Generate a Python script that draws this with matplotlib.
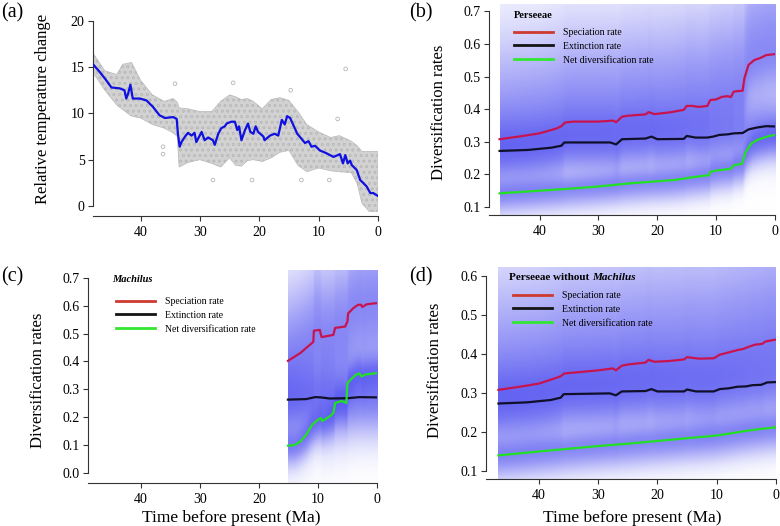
import numpy as np
import matplotlib
matplotlib.use("Agg")
import matplotlib.pyplot as plt
from matplotlib.lines import Line2D

plt.rcParams['font.family'] = ['Liberation Serif', 'DejaVu Serif']
plt.rcParams['hatch.linewidth'] = 0.4

# ---- (a) temperature ----
temp_age = [48.0, 46.9, 45.8, 44.9, 43.5, 42.7, 42.4, 42.1, 41.7, 41.3, 40.1, 39.0, 37.9, 36.8, 35.9,
            34.5, 33.9, 33.7, 33.4, 33.1, 32.5, 32.0, 31.4, 30.9, 30.6, 29.7, 29.2, 28.6, 27.8, 27.5,
            26.9, 26.4, 25.8, 25.5, 24.7, 24.1, 23.7, 23.4, 23.0, 22.4, 21.9, 21.5, 21.0, 20.6, 20.2,
            19.3, 19.1, 18.2, 17.4, 16.8, 16.2, 15.7, 15.3, 14.8, 14.3, 13.6, 13.2, 12.3, 11.7, 11.2,
            10.6, 9.8, 8.7, 7.5, 6.4, 5.9, 5.5, 5.1, 4.7, 4.4, 3.6, 3.0, 2.5, 1.9, 1.3, 0.8, 0.05]
temp_val = [15.3, 14.5, 13.6, 12.8, 12.7, 12.5, 11.6, 12.1, 13.1, 11.6, 11.6, 11.4, 10.7, 9.8, 9.5,
            9.6, 9.4, 7.8, 6.4, 6.9, 7.5, 7.9, 7.6, 7.9, 6.9, 8.0, 7.1, 7.4, 7.1, 6.6,
            7.8, 8.4, 8.6, 8.9, 9.1, 9.1, 8.2, 8.6, 7.1, 8.2, 8.9, 8.0, 7.8, 8.6, 8.0,
            7.5, 7.1, 7.6, 7.8, 7.6, 9.3, 8.8, 9.7, 9.5, 8.8, 7.8, 7.5, 6.8, 7.0, 6.4,
            6.5, 6.0, 5.7, 5.3, 5.6, 4.6, 5.5, 4.6, 4.9, 4.4, 3.9, 2.8, 2.5, 2.1, 1.4, 1.4, 1.1]

# envelope of the raw record cloud
cloud_age = [48.0, 46.0, 44.0, 43.0, 41.5, 40.0, 38.0, 36.0, 34.5, 33.8, 33.5, 32.0, 30.0, 28.0, 26.5,
             25.0, 24.0, 23.0, 22.0, 21.0, 19.5, 18.0, 16.5, 15.0, 13.5, 12.0, 10.0, 8.0, 6.5, 4.5,
             3.5, 2.7, 1.5, 0.0]
cloud_hi = [16.5, 14.6, 14.2, 15.3, 15.5, 13.6, 12.0, 11.3, 11.6, 11.2, 10.6, 10.5, 10.2, 10.2, 11.3,
            12.0, 11.8, 11.5, 11.6, 11.3, 10.5, 11.5, 11.7, 11.4, 10.2, 8.8, 8.0, 7.4, 7.6, 7.0,
            6.5, 5.9, 5.9, 5.9]
cloud_lo = [14.4, 12.5, 10.9, 10.4, 9.7, 9.5, 8.8, 8.4, 7.9, 7.5, 4.2, 4.7, 5.0, 4.6, 4.2,
            5.2, 4.4, 4.3, 4.9, 5.0, 4.8, 5.2, 5.8, 6.0, 4.4, 3.7, 4.1, 3.8, 3.7, 3.6,
            2.4, 0.3, -0.6, -0.6]
out_age = [34.2, 24.4, 36.2, 36.2, 14.7, 27.8, 21.2, 12.9, 8.2, 5.45, 6.8]
out_val = [13.2, 13.3, 6.4, 5.6, 12.5, 2.8, 2.8, 2.8, 2.8, 14.8, 9.4]

# ---- (b) Perseeae ----
b_sp_age = [46.8, 42.8, 40.0, 37.1, 36.3, 35.7, 34.3, 30.0, 27.5, 27.0, 26.0, 25.0, 22.0, 21.5, 20.5,
            18.0, 15.5, 15.0, 14.0, 13.0, 11.5, 11.0, 10.0, 9.0, 8.0, 7.5, 7.0, 6.0, 5.5, 5.2,
            4.5, 3.5, 2.5, 1.5, 0.0]
b_sp = [0.308, 0.318, 0.326, 0.341, 0.348, 0.359, 0.362, 0.362, 0.365, 0.360, 0.377, 0.380, 0.384, 0.391, 0.385,
        0.390, 0.398, 0.410, 0.410, 0.407, 0.410, 0.428, 0.430, 0.438, 0.440, 0.437, 0.454, 0.456, 0.457, 0.495,
        0.536, 0.551, 0.557, 0.566, 0.569]
b_ex_age = [46.8, 42.0, 38.0, 36.3, 35.8, 28.0, 27.0, 26.0, 22.0, 21.0, 20.0, 15.5, 15.0, 13.5, 11.5,
            10.5, 9.5, 8.0, 7.0, 5.5, 4.5, 3.0, 1.5, 0.0]
b_ex = [0.272, 0.275, 0.282, 0.288, 0.298, 0.298, 0.292, 0.308, 0.310, 0.316, 0.308, 0.309, 0.318, 0.313, 0.313,
        0.316, 0.321, 0.323, 0.326, 0.327, 0.338, 0.344, 0.348, 0.347]
b_net_age = [46.8, 40.0, 35.0, 30.0, 25.0, 20.0, 17.0, 15.5, 14.5, 12.0, 11.2, 11.0, 10.0, 8.0, 7.5,
             7.0, 5.6, 5.0, 4.0, 3.0, 2.0, 1.0, 0.0]
b_net = [0.142, 0.150, 0.156, 0.163, 0.172, 0.179, 0.183, 0.187, 0.190, 0.196, 0.198, 0.208, 0.212, 0.216, 0.218,
         0.228, 0.233, 0.268, 0.295, 0.306, 0.312, 0.318, 0.321]

# ---- (c) Machilus ----
c_sp_age = [15.1, 13.0, 10.8, 10.7, 9.7, 9.4, 7.4, 7.1, 5.4, 5.0, 4.9, 4.0, 3.2, 2.7, 2.5, 1.7, 0.0]
c_sp = [0.402, 0.430, 0.470, 0.510, 0.513, 0.487, 0.495, 0.520, 0.525, 0.544, 0.572, 0.591, 0.603, 0.603,
        0.595, 0.605, 0.609]
c_ex_age = [15.1, 12.0, 10.5, 9.5, 8.0, 5.0, 3.0, 0.0]
c_ex = [0.263, 0.265, 0.272, 0.271, 0.267, 0.268, 0.272, 0.271]
c_net_age = [15.1, 14.0, 13.0, 12.0, 11.0, 10.0, 9.5, 9.3, 8.0, 7.4, 7.1, 6.0, 5.2, 5.0, 4.5,
             3.6, 3.0, 2.6, 2.0, 0.0]
c_net = [0.098, 0.100, 0.113, 0.137, 0.173, 0.191, 0.197, 0.186, 0.203, 0.215, 0.251, 0.258, 0.251, 0.322, 0.334,
         0.352, 0.357, 0.346, 0.353, 0.358]

# ---- (d) Perseeae without Machilus ----
d_sp_age = [46.8, 42.8, 40.0, 37.2, 36.3, 35.7, 30.0, 27.5, 27.0, 26.0, 25.0, 22.0, 21.5, 20.5, 18.0,
            15.5, 15.0, 13.0, 10.5, 9.5, 8.0, 6.5, 5.5, 4.5, 3.5, 2.3, 1.8, 0.0]
d_sp = [0.308, 0.317, 0.324, 0.338, 0.343, 0.350, 0.358, 0.363, 0.358, 0.370, 0.373, 0.378, 0.385, 0.380, 0.382,
        0.386, 0.392, 0.388, 0.389, 0.398, 0.404, 0.410, 0.413, 0.419, 0.424, 0.426, 0.432, 0.437]
d_ex_age = [46.8, 42.0, 38.0, 36.3, 35.8, 28.0, 27.0, 26.0, 22.0, 21.0, 20.0, 15.5, 15.0, 13.5, 10.5,
            9.5, 8.0, 6.5, 5.0, 4.0, 2.5, 1.5, 0.0]
d_ex = [0.273, 0.276, 0.282, 0.288, 0.297, 0.299, 0.294, 0.304, 0.305, 0.310, 0.304, 0.304, 0.309, 0.304, 0.304,
        0.310, 0.312, 0.316, 0.317, 0.320, 0.321, 0.327, 0.328]
d_net_age = [46.8, 40.0, 35.0, 30.0, 25.0, 20.0, 15.0, 10.0, 7.0, 5.0, 3.0, 0.0]
d_net = [0.140, 0.150, 0.157, 0.164, 0.170, 0.177, 0.184, 0.191, 0.198, 0.203, 0.207, 0.212]

legend_labels = ['Speciation rate', 'Extinction rate', 'Net diversification rate']

W, H = 780, 526
SP_COL, EX_COL, NET_COL = '#c8144e', '#10102a', '#22e022'
LEG_COLS = ['#cc3a30', '#141414', '#33e633']
BLUE = np.array([0.28, 0.28, 0.94])

fig = plt.figure(figsize=(W / 100, H / 100), dpi=100)


def add_ax(l, r, t, b):
    return fig.add_axes([l / W, 1 - b / H, (r - l) / W, (b - t) / H])


def style(ax, yb, yticks, ylabs):
    for s in ['top', 'right']:
        ax.spines[s].set_visible(False)
    for s in ['left', 'bottom']:
        ax.spines[s].set_color('#333333')
        ax.spines[s].set_linewidth(0.8)
    ax.spines['left'].set_bounds(*yb)
    ax.set_yticks(yticks)
    ax.set_yticklabels(ylabs)
    ax.set_xticks([40, 30, 20, 10, 0])
    ax.tick_params(axis='both', direction='out', length=3.5, width=0.8, color='#333333', labelsize=10)
    ax.tick_params(axis='x', pad=3.5)
    ax.tick_params(axis='y', pad=2.5)


def shade(ax, curves, ylo, yhi):
    # density shading around the rate curves (BAMM style), drawn as one image
    root = max(a[0] for a, v, *_ in curves)
    tt = np.linspace(root, 0, 500)
    yy = np.linspace(ylo, yhi, 300)
    keep = np.ones((yy.size, tt.size))
    for ages, vals, w_up, w_dn, amax in curves:
        c = np.interp(tt, ages[::-1], vals[::-1])
        d = yy[:, None] - c[None, :]
        w = np.where(d > 0, w_up, w_dn)
        keep *= 1 - amax * np.exp(-0.5 * (d / w) ** 2)
    alpha = 1 - keep
    img = np.ones((yy.size, tt.size, 3)) * (1 - alpha[..., None]) + BLUE * alpha[..., None]
    ax.imshow(img, extent=(root, 0, ylo, yhi), origin='lower', aspect='auto',
              interpolation='bilinear', zorder=1)


def rate_panel(ax, data, widths, lims, leg_xy, title_parts, title_xy, title_size):
    (sa, sv), (ea, ev), (na, nv) = data
    ylo, yhi = lims
    shade(ax, [(sa, sv) + widths[0], (ea, ev) + widths[1], (na, nv) + widths[2]], ylo, yhi)
    ax.plot(sa, sv, color=SP_COL, lw=1.6, zorder=3)
    ax.plot(ea, ev, color=EX_COL, lw=1.6, zorder=3)
    ax.plot(na, nv, color=NET_COL, lw=1.6, zorder=3)
    handles = [Line2D([], [], color=c, lw=2.0) for c in LEG_COLS]
    ax.legend(handles, legend_labels, loc='upper left',
              bbox_to_anchor=(leg_xy[0] / W, 1 - leg_xy[1] / H), bbox_transform=fig.transFigure,
              frameon=False, fontsize=7, handlelength=4.0, handletextpad=1.0,
              labelspacing=0.5, borderpad=0, borderaxespad=0)
    prev = None
    for txt, st in title_parts:
        if prev is None:
            prev = fig.text(title_xy[0] / W, 1 - title_xy[1] / H, txt, fontsize=title_size, weight='bold',
                            style=st, ha='left', va='center')
        else:
            prev = ax.annotate(txt, xy=(1, 0), xycoords=prev, fontsize=title_size, weight='bold',
                               style=st, ha='left', va='bottom')


std_widths = [(0.22, 0.09, 0.64), (0.07, 0.07, 0.6), (0.03, 0.045, 0.6)]

# (a)
axa = add_ax(93, 378, 11.5, 216)
axa.fill_between(cloud_age, cloud_lo, cloud_hi, facecolor='#d2d2d2', edgecolor='#bababa',
                 hatch='ooo', lw=0.5, zorder=1)
axa.scatter(out_age, out_val, s=7, facecolors='none', edgecolors='#b5b5b5', linewidths=0.6, zorder=2)
axa.plot(temp_age, temp_val, color='#1010e0', lw=1.6, zorder=3)
axa.set_xlim(48, 0)
axa.set_ylim(-1.08, 21.0)
style(axa, (0, 20), [0, 5, 10, 15, 20], ['0', '5', '10', '15', '20'])

# (b)
axb = add_ax(489, 775, 4, 215)
rate_panel(axb, [(b_sp_age, b_sp), (b_ex_age, b_ex), (b_net_age, b_net)], std_widths,
           (0.0755, 0.7227), (514, 28), [('Perseeae', 'normal')], (514, 15), 7.5)
axb.set_xlim(48.6, 0)
axb.set_ylim(0.0755, 0.7227)
style(axb, (0.1, 0.7), [0.1, 0.2, 0.3, 0.4, 0.5, 0.6, 0.7],
      ['0.1', '0.2', '0.3', '0.4', '0.5', '0.6', '0.7'])

# (c)
axc = add_ax(88, 377, 270, 483)
rate_panel(axc, [(c_sp_age, c_sp), (c_ex_age, c_ex), (c_net_age, c_net)],
           [(0.2, 0.2, 0.64), (0.1, 0.1, 0.64), (0.04, 0.05, 0.6)],
           (-0.0358, 0.7276), (116, 297), [('Machilus', 'italic')], (112, 279), 7.5)
axc.set_xlim(49.0, 0)
axc.set_ylim(-0.0358, 0.7276)
style(axc, (0.0, 0.7), [0.0, 0.1, 0.2, 0.3, 0.4, 0.5, 0.6, 0.7],
      ['0.0', '0.1', '0.2', '0.3', '0.4', '0.5', '0.6', '0.7'])

# (d)
axd = add_ax(486, 776, 267, 479)
rate_panel(axd, [(d_sp_age, d_sp), (d_ex_age, d_ex), (d_net_age, d_net)], std_widths,
           (0.0795, 0.623), (513, 291), [('Perseeae without ', 'normal'), ('Machilus', 'italic')],
           (509, 278), 8)
axd.set_xlim(48.9, 0)
axd.set_ylim(0.0795, 0.623)
style(axd, (0.1, 0.6), [0.1, 0.2, 0.3, 0.4, 0.5, 0.6],
      ['0.1', '0.2', '0.3', '0.4', '0.5', '0.6'])

# axis titles and panel letters
fig.text(43 / W, 1 - 109 / H, 'Relative temperature change', rotation=90, ha='center', va='center', fontsize=12)
fig.text(439 / W, 1 - 112 / H, 'Diversification rates', rotation=90, ha='center', va='center', fontsize=12)
fig.text(38 / W, 1 - 380 / H, 'Diversification rates', rotation=90, ha='center', va='center', fontsize=12)
fig.text(435 / W, 1 - 370 / H, 'Diversification rates', rotation=90, ha='center', va='center', fontsize=12)
fig.text(231 / W, 1 - 518 / H, 'Time before present (Ma)', ha='center', va='center', fontsize=12.5)
fig.text(632 / W, 1 - 518 / H, 'Time before present (Ma)', ha='center', va='center', fontsize=12.5)
for lab, x, y in [('(a)', 12, 13), ('(b)', 421, 13), ('(c)', 12, 277), ('(d)', 421, 277)]:
    fig.text(x / W, 1 - y / H, lab, ha='center', va='center', fontsize=14.5)

fig.savefig('out.png', dpi=100)
